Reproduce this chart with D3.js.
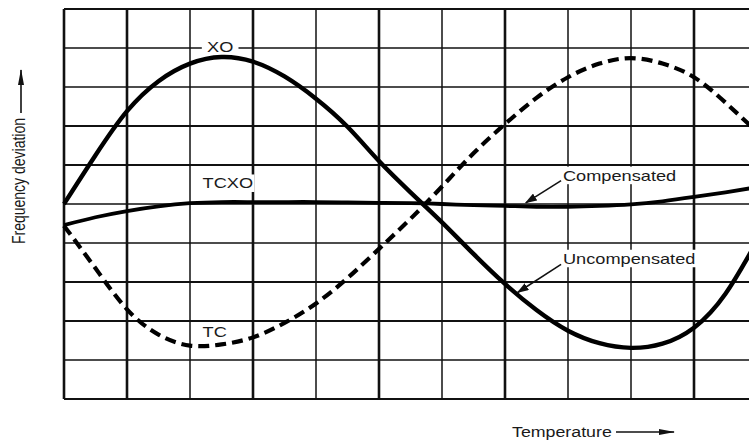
<!DOCTYPE html>
<html>
<head>
<meta charset="utf-8">
<script src="https://cdn.jsdelivr.net/npm/d3@7"></script>
<style>
  body { margin: 0; background: #fff; }
  svg { display: block; }
  text { font-family: "Liberation Sans", Arial, sans-serif; fill: #1a1a1a; }
</style>
</head>
<body>
<div id="chart"></div>
<script>
// temperature steps (one grid column = 1 step) and frequency deviation (one grid row = 1 unit)
var temps   = [0, 0.5, 1, 1.5, 2, 2.5, 3, 3.5, 4, 4.5, 5, 5.5, 6, 6.5, 7, 7.5, 8, 8.5, 9, 9.5, 10, 10.5, 11];
var xoDev   = [0, 1.25, 2.38, 3.15, 3.6, 3.77, 3.65, 3.27, 2.7, 1.98, 1.1, 0.3, -0.47, -1.28, -2.05, -2.72, -3.25, -3.57, -3.69, -3.58, -3.17, -2.3, -0.95];
var tcDev   = [-0.56, -1.65, -2.7, -3.35, -3.63, -3.6, -3.42, -3.05, -2.55, -1.9, -1.15, -0.38, 0.45, 1.3, 2.05, 2.72, 3.25, 3.6, 3.74, 3.6, 3.25, 2.6, 1.85];
var tcxoDev = [-0.54, -0.34, -0.18, -0.06, 0.02, 0.05, 0.05, 0.05, 0.05, 0.04, 0.03, 0.02, 0.0, -0.03, -0.05, -0.07, -0.07, -0.05, -0.01, 0.07, 0.18, 0.3, 0.43];

// grid definition
var colTicks = d3.range(0, 12);
var rowTicks = d3.range(-5, 6);
var thickCols = [0, 1, 3, 5, 7, 10];
var thickRows = [5, 2, 1, -2, -3, -5];

var W = 749, H = 443;
var svg = d3.select("#chart").append("svg")
  .attr("width", W)
  .attr("height", H);

svg.append("rect").attr("width", W).attr("height", H).attr("fill", "#fff");

var x = d3.scaleLinear().domain([0, 11]).range([64, 757]);
var y = d3.scaleLinear().domain([-5, 5]).range([399, 9]);

// markers for arrows
var defs = svg.append("defs");
defs.append("marker")
  .attr("id", "head")
  .attr("markerUnits", "userSpaceOnUse")
  .attr("markerWidth", 12).attr("markerHeight", 8)
  .attr("refX", 11).attr("refY", 4)
  .attr("orient", "auto")
  .append("path").attr("d", "M0,0 L12,4 L0,8 Z").attr("fill", "#111");
defs.append("marker")
  .attr("id", "headLong")
  .attr("markerUnits", "userSpaceOnUse")
  .attr("markerWidth", 16).attr("markerHeight", 7)
  .attr("refX", 15).attr("refY", 3.5)
  .attr("orient", "auto")
  .append("path").attr("d", "M0,0.5 L16,3.5 L0,6.5 Z").attr("fill", "#111");

// grid
var grid = svg.append("g");
grid.selectAll("line.h")
  .data(rowTicks)
  .enter().append("line")
  .attr("class", "h")
  .attr("x1", x(0)).attr("x2", x(11))
  .attr("y1", function (d) { return y(d); })
  .attr("y2", function (d) { return y(d); })
  .attr("stroke", "#111")
  .attr("stroke-width", function (d) { return thickRows.indexOf(d) >= 0 ? 2.1 : 1.5; });
grid.selectAll("line.v")
  .data(colTicks)
  .enter().append("line")
  .attr("class", "v")
  .attr("y1", y(5)).attr("y2", y(-5))
  .attr("x1", function (d) { return x(d); })
  .attr("x2", function (d) { return x(d); })
  .attr("stroke", "#111")
  .attr("stroke-width", function (d) { return thickCols.indexOf(d) >= 0 ? 2.6 : 1.5; });

// stretched text labels with white background cutting the grid
function label(px, py, str, pad) {
  var g = svg.append("g").attr("transform", "translate(" + px + "," + py + ") scale(1.3,1)");
  var bg = g.append("rect").attr("fill", "#fff");
  var t = g.append("text").attr("font-size", 14).text(str);
  var b = t.node().getBBox();
  bg.attr("x", b.x - pad).attr("y", b.y - 1).attr("width", b.width + 2 * pad).attr("height", b.height + 2);
  return g;
}

label(x(2.27), y(3.9), "XO", 4);
label(x(2.2), y(0.4), "TCXO", 1);
label(x(2.2), y(-3.4), "TC", 1);
label(x(7.92), y(0.6), "Compensated", 1);
label(x(7.92), y(-1.53), "Uncompensated", 1);

// curves
var line = d3.line()
  .x(function (d) { return x(d[0]); })
  .y(function (d) { return y(d[1]); })
  .curve(d3.curveNatural);

function pairs(vals) { return temps.map(function (t, i) { return [t, vals[i]]; }); }

svg.append("path")
  .attr("d", line(pairs(tcDev)))
  .attr("fill", "none")
  .attr("stroke", "#000")
  .attr("stroke-width", 4.2)
  .attr("stroke-dasharray", "11,6");

svg.append("path")
  .attr("d", line(pairs(tcxoDev)))
  .attr("fill", "none")
  .attr("stroke", "#000")
  .attr("stroke-width", 3.8);

svg.append("path")
  .attr("d", line(pairs(xoDev)))
  .attr("fill", "none")
  .attr("stroke", "#000")
  .attr("stroke-width", 4.4);

// pointer arrows
svg.append("line")
  .attr("x1", x(7.89)).attr("y1", y(0.6))
  .attr("x2", x(7.33)).attr("y2", y(0.03))
  .attr("stroke", "#111").attr("stroke-width", 1.6)
  .attr("marker-end", "url(#head)");
svg.append("line")
  .attr("x1", x(7.89)).attr("y1", y(-1.55))
  .attr("x2", x(7.2)).attr("y2", y(-2.27))
  .attr("stroke", "#111").attr("stroke-width", 1.6)
  .attr("marker-end", "url(#head)");

// axis titles
svg.append("text")
  .attr("transform", "translate(25,181) scale(1.25,1) rotate(-90)")
  .attr("text-anchor", "middle")
  .attr("font-size", 14)
  .text("Frequency deviation");
svg.append("line")
  .attr("x1", 21).attr("y1", 113)
  .attr("x2", 21).attr("y2", 70)
  .attr("stroke", "#111").attr("stroke-width", 1.6)
  .attr("marker-end", "url(#headLong)");

svg.append("text")
  .attr("transform", "translate(512,437) scale(1.27,1)")
  .attr("font-size", 14)
  .text("Temperature");
svg.append("line")
  .attr("x1", 616).attr("y1", 432)
  .attr("x2", 674).attr("y2", 432)
  .attr("stroke", "#111").attr("stroke-width", 1.4)
  .attr("marker-end", "url(#headLong)");
</script>
</body>
</html>
